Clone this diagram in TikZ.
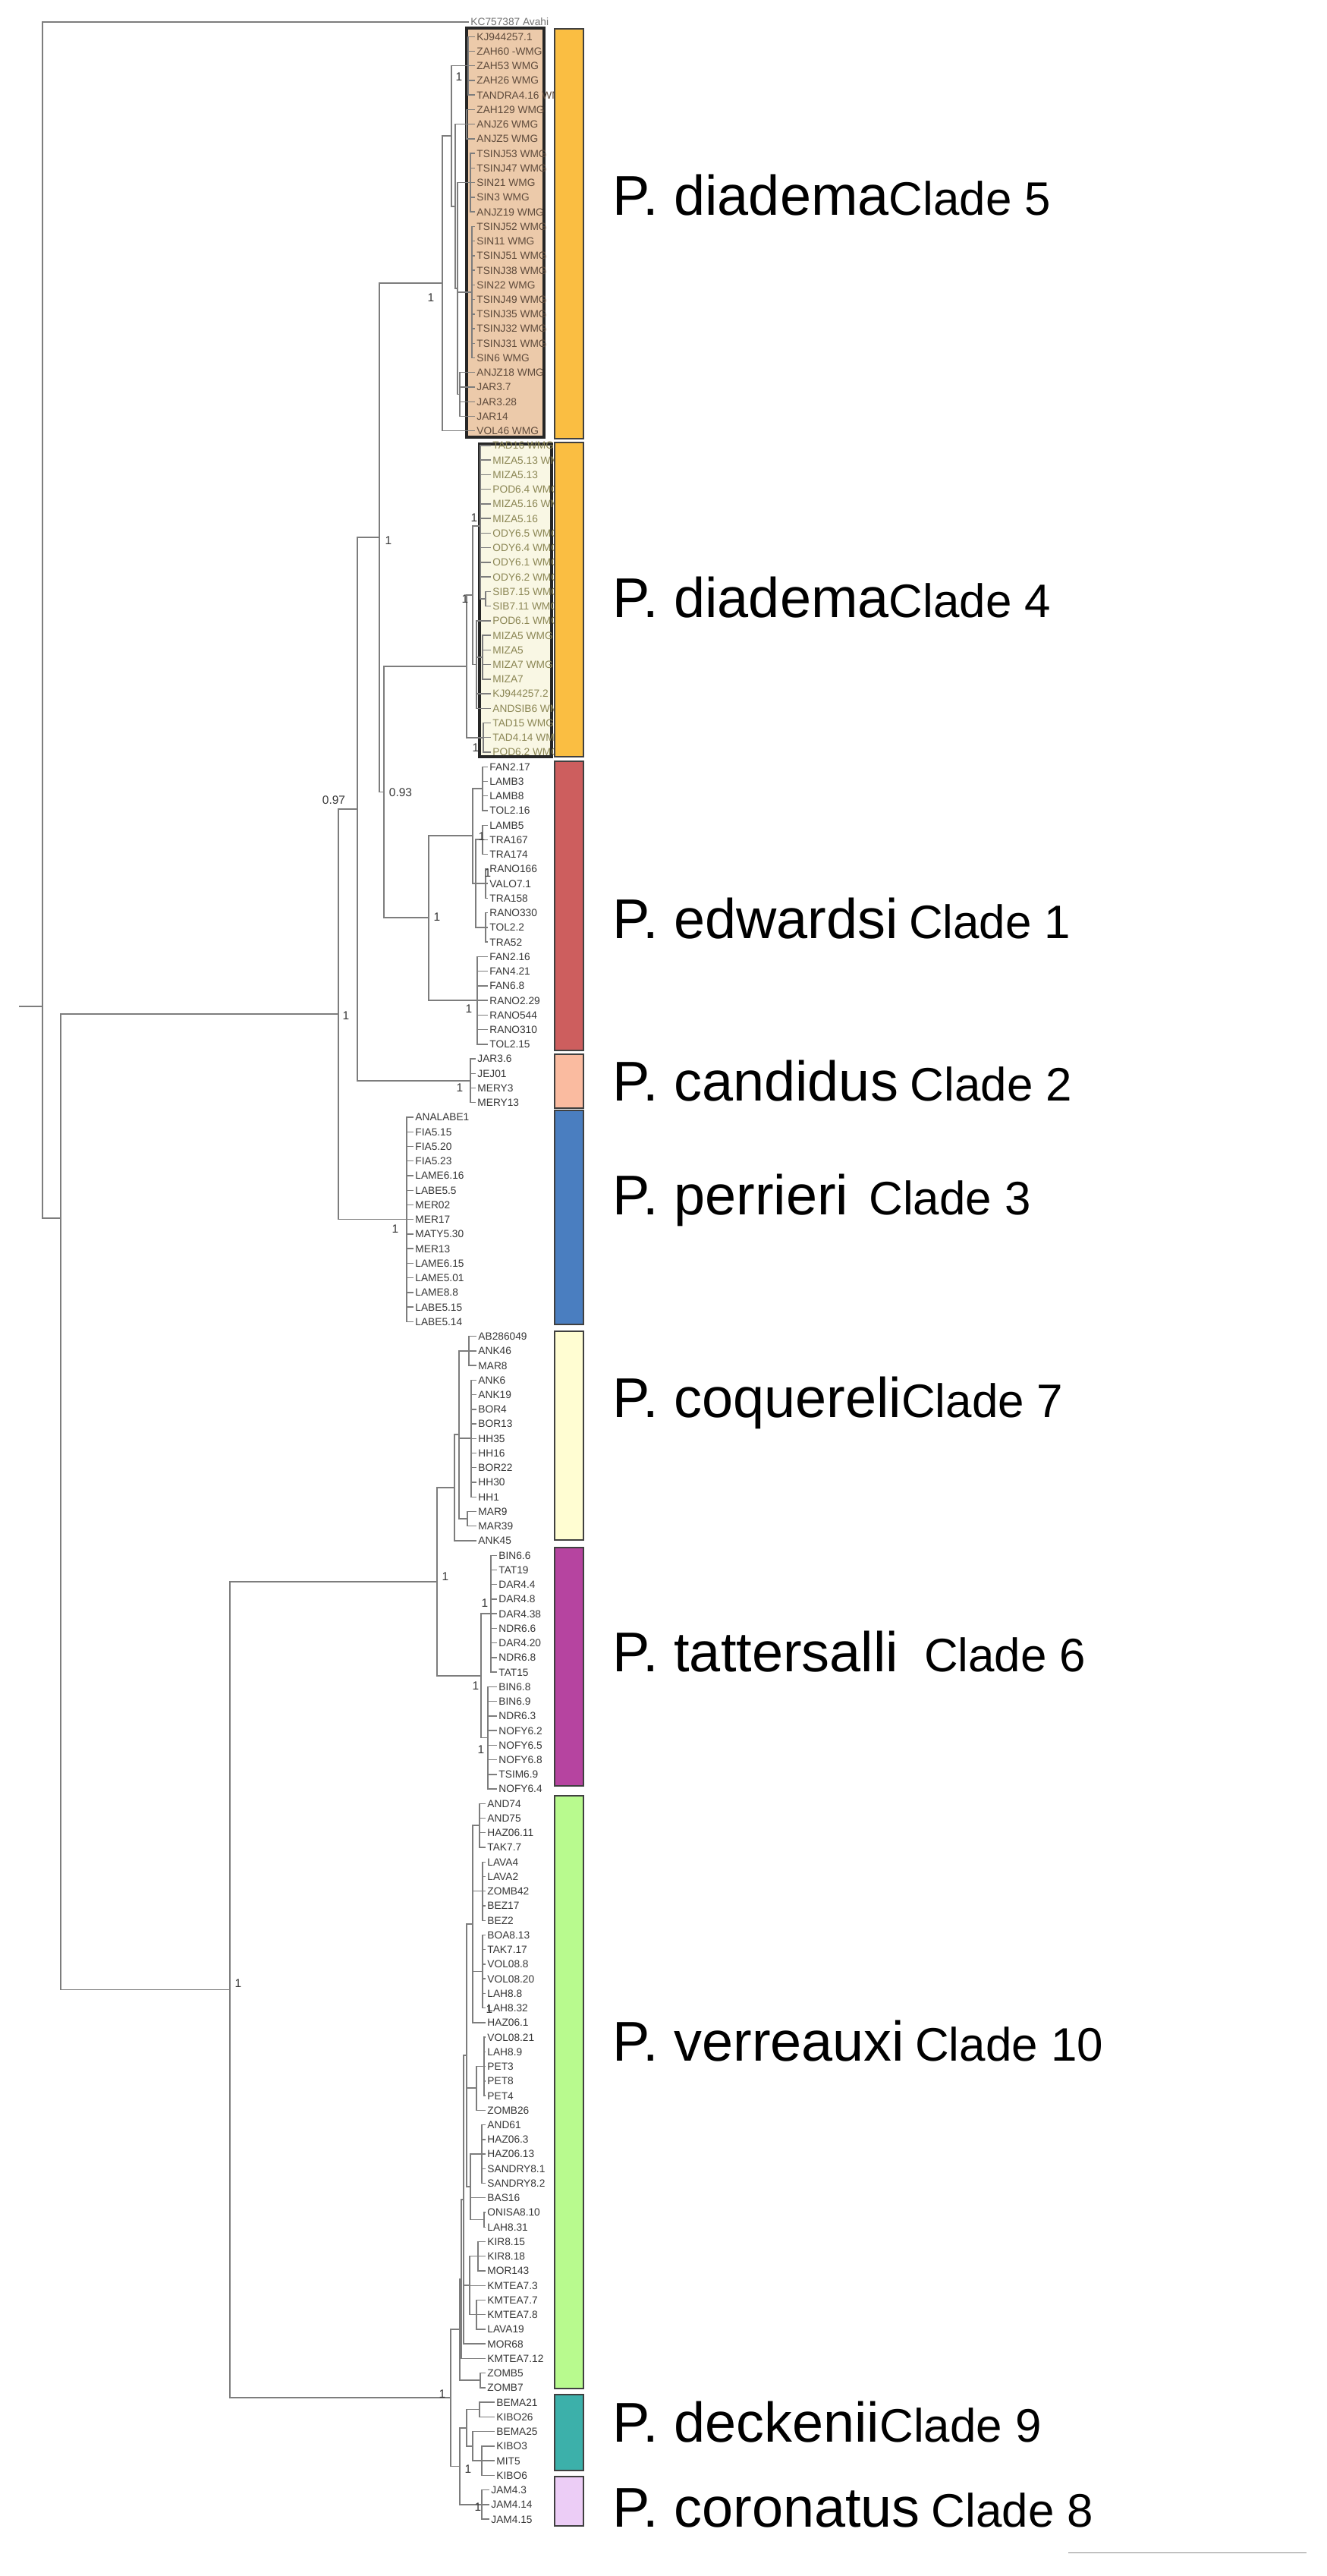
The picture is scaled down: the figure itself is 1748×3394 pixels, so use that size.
\documentclass[tikz,border=0pt]{standalone}
\usepackage{fontspec}
\setmainfont{Liberation Sans}
\usepackage{tikz}
\definecolor{box_c5}{RGB}{236,202,170}
\definecolor{box_c4}{RGB}{249,247,228}
\definecolor{txt_c5}{RGB}{95,75,60}
\definecolor{txt_c4}{RGB}{140,135,85}
\definecolor{txt_lf}{RGB}{55,55,55}
\definecolor{br_gray}{RGB}{125,125,125}
\definecolor{bar_orange}{RGB}{250,190,66}
\definecolor{bar_red}{RGB}{205,94,94}
\definecolor{bar_salmon}{RGB}{250,187,160}
\definecolor{bar_blue}{RGB}{74,126,192}
\definecolor{bar_cream}{RGB}{255,253,210}
\definecolor{bar_magenta}{RGB}{182,68,160}
\definecolor{bar_green}{RGB}{184,250,142}
\definecolor{bar_teal}{RGB}{60,176,170}
\definecolor{bar_lilac}{RGB}{236,205,246}
\tikzstyle{br}=[draw=br_gray,line width=0.4pt]
\tikzstyle{lf}=[anchor=west,inner xsep=0.5pt,inner ysep=0pt,text height=2.8pt,
  text depth=0pt,font=\fontsize{3.9}{4}\selectfont,text=txt_lf]
\tikzstyle{lf5}=[lf,text=txt_c5]
\tikzstyle{lf4}=[lf,text=txt_c4]
\tikzstyle{sup}=[inner sep=0pt,font=\fontsize{4.4}{5}\selectfont,text=txt_lf]
\tikzstyle{bar}=[draw=black!75,line width=0.6pt]
\tikzstyle{sp}=[anchor=base west,inner sep=0pt,font=\fontsize{21}{24}\selectfont]
\newcommand{\cf}{\fontsize{17.6}{20}\selectfont}
\def\ys{19.24}
\def\yo{29}

\begin{document}
\begin{tikzpicture}[x=0.01cm,y=-0.01cm]
    \fill[white] (0,0) rectangle (1748,3394);
    \useasboundingbox (0,0) rectangle (1748,3394);
    % clade boxes
    \draw[fill=box_c5,draw=black!85,line width=0.9pt] (615,37) rectangle (717,576);
    \draw[fill=box_c4,draw=black!85,line width=0.9pt] (632,585) rectangle (727,997);
    % leaves
    \node[lf,text=black!55] (t0) at (618,\yo) {KC757387 Avahi};
    \foreach \n [count=\i from 1] in {KJ944257.1,ZAH60 -WMG,ZAH53 WMG,ZAH26 WMG,
      TANDRA4.16 WMG,ZAH129 WMG,ANJZ6 WMG,ANJZ5 WMG,TSINJ53 WMG,TSINJ47 WMG,
      SIN21 WMG,SIN3 WMG,ANJZ19 WMG,TSINJ52 WMG,SIN11 WMG,TSINJ51 WMG,
      TSINJ38 WMG,SIN22 WMG,TSINJ49 WMG,TSINJ35 WMG,TSINJ32 WMG,TSINJ31 WMG,
      SIN6 WMG,ANJZ18 WMG,JAR3.7,JAR3.28,JAR14,VOL46 WMG}
      \node[lf5] (t\i) at (626,{\yo+\ys*\i}) {\n};
    \foreach \n [count=\i from 29] in {TAD16 WMG,MIZA5.13 WMG,MIZA5.13,POD6.4 WMG,
      MIZA5.16 WMG,MIZA5.16,ODY6.5 WMG,ODY6.4 WMG,ODY6.1 WMG,ODY6.2 WMG,
      SIB7.15 WMG,SIB7.11 WMG,POD6.1 WMG,MIZA5 WMG,MIZA5,MIZA7 WMG,MIZA7,
      KJ944257.2,ANDSIB6 WMG,TAD15 WMG,TAD4.14 WMG,POD6.2 WMG}
      \node[lf4] (t\i) at (647,{\yo+\ys*\i}) {\n};
    \foreach \n [count=\i from 51] in {FAN2.17,LAMB3,LAMB8,TOL2.16,LAMB5,TRA167,
      TRA174,RANO166,VALO7.1,TRA158,RANO330,TOL2.2,TRA52,FAN2.16,FAN4.21,
      FAN6.8,RANO2.29,RANO544,RANO310,TOL2.15}
      \node[lf] (t\i) at (643,{\yo+\ys*\i}) {\n};
    \foreach \n [count=\i from 71] in {JAR3.6,JEJ01,MERY3,MERY13}
      \node[lf] (t\i) at (627,{\yo+\ys*\i}) {\n};
    \foreach \n [count=\i from 75] in {ANALABE1,FIA5.15,FIA5.20,FIA5.23,LAME6.16,
      LABE5.5,MER02,MER17,MATY5.30,MER13,LAME6.15,LAME5.01,LAME8.8,LABE5.15,
      LABE5.14}
      \node[lf] (t\i) at (545,{\yo+\ys*\i}) {\n};
    \foreach \n [count=\i from 90] in {AB286049,ANK46,MAR8,ANK6,ANK19,BOR4,BOR13,
      HH35,HH16,BOR22,HH30,HH1,MAR9,MAR39,ANK45}
      \node[lf] (t\i) at (628,{\yo+\ys*\i}) {\n};
    \foreach \n [count=\i from 105] in {BIN6.6,TAT19,DAR4.4,DAR4.8,DAR4.38,NDR6.6,
      DAR4.20,NDR6.8,TAT15,BIN6.8,BIN6.9,NDR6.3,NOFY6.2,NOFY6.5,NOFY6.8,
      TSIM6.9,NOFY6.4}
      \node[lf] (t\i) at (655,{\yo+\ys*\i}) {\n};
    \foreach \n [count=\i from 122] in {AND74,AND75,HAZ06.11,TAK7.7,LAVA4,LAVA2,
      ZOMB42,BEZ17,BEZ2,BOA8.13,TAK7.17,VOL08.8,VOL08.20,LAH8.8,LAH8.32,
      HAZ06.1,VOL08.21,LAH8.9,PET3,PET8,PET4,ZOMB26,AND61,HAZ06.3,HAZ06.13,
      SANDRY8.1,SANDRY8.2,BAS16,ONISA8.10,LAH8.31,KIR8.15,KIR8.18,MOR143,
      KMTEA7.3,KMTEA7.7,KMTEA7.8,LAVA19,MOR68,KMTEA7.12,ZOMB5,ZOMB7}
      \node[lf] (t\i) at (640,{\yo+\ys*\i}) {\n};
    \foreach \n [count=\i from 163] in {BEMA21,KIBO26,BEMA25,KIBO3,MIT5,KIBO6}
      \node[lf] (t\i) at (652,{\yo+\ys*\i}) {\n};
    \foreach \n [count=\i from 169] in {JAM4.3,JAM4.14,JAM4.15}
      \node[lf] (t\i) at (645,{\yo+\ys*\i}) {\n};
    % internal nodes
    \coordinate (r0) at (25,1326);
    \coordinate (rt) at (56,1326);
    \coordinate (nI) at (80,1605);
    \coordinate (nA) at (446,1336);
    \coordinate (nC) at (471,1066);
    \coordinate (nD) at (500,708);
    \coordinate (nP5) at (583,373);
    \coordinate (n5a) at (595,179);
    \coordinate (n5b) at (617,86.7);
    \coordinate (n5c) at (600,272);
    \coordinate (n5d) at (615,163.7);
    \coordinate (n5f) at (603,380);
    \coordinate (n5g) at (620,240.6);
    \coordinate (n5h) at (622,385);
    \coordinate (n5i) at (606,519.6);
    \coordinate (nE) at (506,1043.5);
    \coordinate (nP4) at (615,878);
    \coordinate (n4a) at (623,784);
    \coordinate (n4a1) at (633,692.8);
    \coordinate (n4b) at (640,789);
    \coordinate (n4a2) at (628,875.6);
    \coordinate (n4d) at (636,866);
    \coordinate (n4c) at (637,971.8);
    \coordinate (nP1) at (565,1209);
    \coordinate (n1a) at (623,1101);
    \coordinate (n1a1) at (636,1039);
    \coordinate (n1a2) at (627,1164);
    \coordinate (n1c) at (636,1106);
    \coordinate (n1d) at (640,1164);
    \coordinate (n1e) at (640,1222);
    \coordinate (n1b) at (629,1318);
    \coordinate (nP2) at (620,1424);
    \coordinate (nP3) at (536,1606.5);
    \coordinate (nB) at (303,2621.5);
    \coordinate (nF) at (576,2084);
    \coordinate (nP7) at (599,1960);
    \coordinate (n7) at (605,1890);
    \coordinate (n7a) at (618,1780);
    \coordinate (n7b) at (621,1895);
    \coordinate (n7c) at (616,2001);
    \coordinate (nP6) at (634,2208);
    \coordinate (n6a) at (647,2126);
    \coordinate (n6b) at (643,2289.6);
    \coordinate (nG) at (594,3159);
    \coordinate (nP10) at (606,3069);
    \coordinate (nQ0) at (608,3002.5);
    \coordinate (nZ) at (633,3136);
    \coordinate (nQ1) at (611,2898);
    \coordinate (nQ2) at (615,2708);
    \coordinate (nQ3) at (619,3011);
    \coordinate (nA1) at (623,2535);
    \coordinate (nA2) at (628,2751);
    \coordinate (nA3) at (620,2881);
    \coordinate (na1) at (632,2405);
    \coordinate (na2) at (636,2491.7);
    \coordinate (na3) at (636,2597.5);
    \coordinate (na4) at (638,2722.6);
    \coordinate (na5) at (635,2838);
    \coordinate (na6) at (638,2924.7);
    \coordinate (na7) at (630,2972.7);
    \coordinate (na8) at (628,3049.7);
    \coordinate (nH) at (606,3249.5);
    \coordinate (nP9) at (615,3199);
    \coordinate (nb1) at (632,3174.7);
    \coordinate (nb2) at (623,3223);
    \coordinate (nb3) at (635,3242);
    \coordinate (nP8) at (635,3300);
    % backbone
    \draw[br] (r0) -- (rt);
    \draw[br] (rt) |- (t0.west);
    \draw[br] (rt) |- (nI);
    \draw[br] (nI) |- (nA);
    \draw[br] (nI) |- (nB);
    \draw[br] (nA) |- (nC);
    \draw[br] (nA) |- (nP3);
    \draw[br] (nC) |- (nD);
    \draw[br] (nC) |- (nP2);
    \draw[br] (nD) |- (nP5);
    \draw[br] (nD) |- (nE);
    \draw[br] (nE) |- (nP4);
    \draw[br] (nE) |- (nP1);
    \draw[br] (nB) |- (nF);
    \draw[br] (nB) |- (nG);
    \draw[br] (nF) |- (nP7);
    \draw[br] (nF) |- (nP6);
    \draw[br] (nG) |- (nP10);
    \draw[br] (nG) |- (nH);
    % clade 5
    \draw[br] (nP5) |- (n5a);
    \draw[br] (nP5) |- (t28.west);
    \draw[br] (n5a) |- (n5b);
    \draw[br] (n5a) |- (n5c);
    \draw[br] (n5c) |- (n5d);
    \draw[br] (n5c) |- (n5f);
    \draw[br] (n5f) |- (n5g);
    \draw[br] (n5f) |- (n5h);
    \draw[br] (n5f) |- (n5i);
    \foreach \i in {1,...,5} \draw[br] (n5b) |- (t\i.west);
    \foreach \i in {6,7,8} \draw[br] (n5d) |- (t\i.west);
    \foreach \i in {9,...,13} \draw[br] (n5g) |- (t\i.west);
    \foreach \i in {14,...,23} \draw[br] (n5h) |- (t\i.west);
    \foreach \i in {24,...,27} \draw[br] (n5i) |- (t\i.west);
    % clade 4
    \draw[br] (nP4) |- (n4a);
    \draw[br] (nP4) |- (n4c);
    \draw[br] (n4a) |- (n4a1);
    \draw[br] (n4a) |- (n4a2);
    \draw[br] (n4a1) |- (n4b);
    \draw[br] (n4a2) |- (n4d);
    \foreach \i in {29,...,38} \draw[br] (n4a1) |- (t\i.west);
    \foreach \i in {39,40} \draw[br] (n4b) |- (t\i.west);
    \foreach \i in {41,46,47} \draw[br] (n4a2) |- (t\i.west);
    \foreach \i in {42,...,45} \draw[br] (n4d) |- (t\i.west);
    \foreach \i in {48,49,50} \draw[br] (n4c) |- (t\i.west);
    % clade 1
    \draw[br] (nP1) |- (n1a);
    \draw[br] (nP1) |- (n1b);
    \draw[br] (n1a) |- (n1a1);
    \draw[br] (n1a) |- (n1a2);
    \draw[br] (n1a2) |- (n1c);
    \draw[br] (n1a2) |- (n1d);
    \draw[br] (n1a2) |- (n1e);
    \foreach \i in {51,...,54} \draw[br] (n1a1) |- (t\i.west);
    \foreach \i in {55,56,57} \draw[br] (n1c) |- (t\i.west);
    \foreach \i in {58,59,60} \draw[br] (n1d) |- (t\i.west);
    \foreach \i in {61,62,63} \draw[br] (n1e) |- (t\i.west);
    \foreach \i in {64,...,70} \draw[br] (n1b) |- (t\i.west);
    % clades 2 and 3
    \foreach \i in {71,...,74} \draw[br] (nP2) |- (t\i.west);
    \foreach \i in {75,...,89} \draw[br] (nP3) |- (t\i.west);
    % clade 7
    \draw[br] (nP7) |- (n7);
    \draw[br] (nP7) |- (t104.west);
    \draw[br] (n7) |- (n7a);
    \draw[br] (n7) |- (n7b);
    \draw[br] (n7) |- (n7c);
    \foreach \i in {90,91,92} \draw[br] (n7a) |- (t\i.west);
    \foreach \i in {93,...,101} \draw[br] (n7b) |- (t\i.west);
    \foreach \i in {102,103} \draw[br] (n7c) |- (t\i.west);
    % clade 6
    \draw[br] (nP6) |- (n6a);
    \draw[br] (nP6) |- (n6b);
    \foreach \i in {105,...,113} \draw[br] (n6a) |- (t\i.west);
    \foreach \i in {114,...,121} \draw[br] (n6b) |- (t\i.west);
    % clade 10
    \draw[br] (nP10) |- (nQ0);
    \draw[br] (nP10) |- (nZ);
    \draw[br] (nQ0) |- (nQ1);
    \draw[br] (nQ0) |- (t160.west);
    \draw[br] (nQ1) |- (nQ2);
    \draw[br] (nQ1) |- (nQ3);
    \draw[br] (nQ1) |- (t159.west);
    \draw[br] (nQ2) |- (nA1);
    \draw[br] (nQ2) |- (nA2);
    \draw[br] (nQ2) |- (nA3);
    \draw[br] (nA1) |- (na1);
    \draw[br] (nA1) |- (na2);
    \draw[br] (nA1) |- (na3);
    \draw[br] (nA1) |- (t137.west);
    \draw[br] (nA2) |- (na4);
    \draw[br] (nA2) |- (t143.west);
    \draw[br] (nA3) |- (na5);
    \draw[br] (nA3) |- (t149.west);
    \draw[br] (nA3) |- (na6);
    \draw[br] (nQ3) |- (na7);
    \draw[br] (nQ3) |- (t155.west);
    \draw[br] (nQ3) |- (na8);
    \foreach \i in {122,...,125} \draw[br] (na1) |- (t\i.west);
    \foreach \i in {126,...,130} \draw[br] (na2) |- (t\i.west);
    \foreach \i in {131,...,136} \draw[br] (na3) |- (t\i.west);
    \foreach \i in {138,...,142} \draw[br] (na4) |- (t\i.west);
    \foreach \i in {144,...,148} \draw[br] (na5) |- (t\i.west);
    \foreach \i in {150,151} \draw[br] (na6) |- (t\i.west);
    \foreach \i in {152,153,154} \draw[br] (na7) |- (t\i.west);
    \foreach \i in {156,157,158} \draw[br] (na8) |- (t\i.west);
    \foreach \i in {161,162} \draw[br] (nZ) |- (t\i.west);
    % clades 9 and 8
    \draw[br] (nH) |- (nP9);
    \draw[br] (nH) |- (nP8);
    \draw[br] (nP9) |- (nb1);
    \draw[br] (nP9) |- (nb2);
    \draw[br] (nb2) |- (t165.west);
    \draw[br] (nb2) |- (nb3);
    \foreach \i in {163,164} \draw[br] (nb1) |- (t\i.west);
    \foreach \i in {166,167,168} \draw[br] (nb3) |- (t\i.west);
    \foreach \i in {169,170,171} \draw[br] (nP8) |- (t\i.west);
    % support values
    \node[sup] (s97) at (440,1054) {0.97};
    \node[sup] (s93) at (528,1044) {0.93};
    \foreach \x/\y [count=\k] in {605/101,568/392,512/712,625/682,613/789,627/985,
      635/1102,643/1150,576/1208,618/1329,456/1338,606/1433,521/1619,587/2077,
      639/2112,627/2221,634/2305,314/2613,645/2647,583/3154,617/3253,630/3303}
      \node[sup] (s\k) at (\x,\y) {1};
    % colour bars
    \foreach \t/\b/\c in {38/578/bar_orange,583/997/bar_orange,1003/1384/bar_red,
      1389/1460/bar_salmon,1463/1745/bar_blue,1754/2029/bar_cream,
      2039/2353/bar_magenta,2366/3147/bar_green,3155/3255/bar_teal,
      3263/3328/bar_lilac}
      \draw[bar,fill=\c] (731,\t) rectangle (769,\b);
    % species labels
    \node[sp] (sp5) at (807,284) {P. diadema{\cf Clade 5}};
    \node[sp] (sp4) at (807,813) {P. diadema{\cf Clade 4}};
    \node[sp] (sp1) at (807,1236) {P. edwardsi{\cf\hspace{4pt}Clade 1}};
    \node[sp] (sp2) at (807,1450) {P. candidus{\cf\hspace{4.5pt}Clade 2}};
    \node[sp] (sp3) at (807,1600) {P. perrieri{\cf\hspace{7.7pt}Clade 3}};
    \node[sp] (sp7) at (807,1867) {P. coquereli{\cf Clade 7}};
    \node[sp] (sp6) at (807,2202) {P. tattersalli{\cf\hspace{9.7pt}Clade 6}};
    \node[sp] (sp10) at (807,2715) {P. verreauxi{\cf\hspace{4pt}Clade 10}};
    \node[sp] (sp9) at (807,3217) {P. deckenii{\cf Clade 9}};
    \node[sp] (sp8) at (807,3329) {P. coronatus{\cf\hspace{4.3pt}Clade 8}};
    % scale bar
    \coordinate (sb0) at (1408,3363);
    \coordinate (sb1) at (1722,3363);
    \draw[draw=black!45,line width=0.3pt] (sb0) -- (sb1);
\end{tikzpicture}
\end{document}
